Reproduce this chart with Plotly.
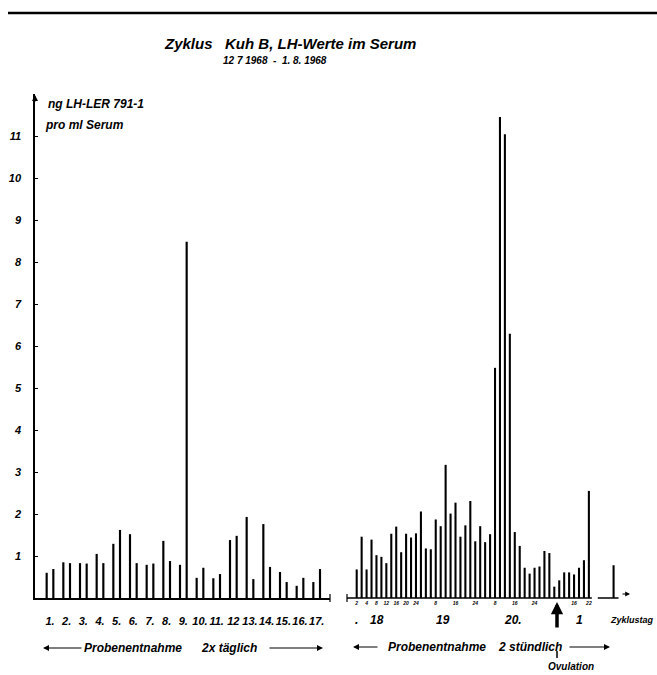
import plotly.graph_objects as go

# ---------------- data ----------------
title_text = "Zyklus&nbsp;&nbsp;&nbsp;Kuh B, LH-Werte im Serum"
subtitle_text = "12 7 1968&nbsp;&nbsp;-&nbsp;&nbsp;1. 8. 1968"
y_label_lines = ["ng LH-LER 791-1", "pro ml Serum"]

left_days = list(range(1, 18))
left_day_labels = ["1.", "2.", "3.", "4.", "5.", "6.", "7.", "8.", "9.", "10.",
                   "11.", "12", "13.", "14.", "15.", "16.", "17."]
# two samples per day (ng/ml)
left_values = [0.60, 0.69, 0.85, 0.83, 0.83, 0.82, 1.05, 0.83, 1.29, 1.62,
               1.52, 0.83, 0.79, 0.82, 1.36, 0.88, 0.79, 8.48, 0.48, 0.72,
               0.47, 0.57, 1.38, 1.48, 1.93, 0.45, 1.76, 0.74, 0.62, 0.38,
               0.29, 0.48, 0.38, 0.69]

# samples every 2 hours (ng/ml)
right_values = [0.68, 1.46, 0.68, 1.39, 1.02, 0.98, 0.83, 1.53, 1.70, 1.09,
                1.53, 1.44, 1.54, 2.06, 1.18, 1.16, 1.87, 1.71, 3.17, 2.01,
                2.27, 1.46, 1.73, 2.31, 1.35, 1.71, 1.33, 1.52, 5.48, 11.45,
                11.04, 6.29, 1.57, 1.24, 0.72, 0.58, 0.72, 0.75, 1.12, 1.07,
                0.27, 0.42, 0.61, 0.61, 0.56, 0.72, 0.90, 2.55]
right_late_value = [0.78]

right_hour_ticks = [0, 2, 4, 6, 8, 10, 12, 16, 20, 24, 28, 32, 36, 44, 47]
right_hour_labels = ["2", "4", "8", "12", "16", "20", "24", "8", "16", "24",
                     "8", "16", "24", "16", "22"]
right_day_labels = [".", "18", "19", "20.", "1"]
right_day_pos = [-0.1, 4.1, 17.5, 31.6, 45.2]
y_ticks = list(range(1, 12))

# ---------------- geometry helpers ----------------
W, H = 657, 675
def px(x):
    return x / W
def py(y):
    return 1 - y / H

FONT = "Liberation Sans"
BI = dict(family=FONT, color="black", style="italic", weight="bold")

left_x = [left_days[i // 2] - 0.2 + 0.4 * (i % 2) for i in range(len(left_values))]
right_x = list(range(len(right_values)))
late_x = [len(right_values) + 4]

fig = go.Figure()
fig.add_trace(go.Bar(x=left_x, y=left_values, width=0.13, marker_color="black",
                     marker_line_width=0, xaxis="x", yaxis="y", showlegend=False))
fig.add_trace(go.Bar(x=right_x, y=right_values, width=0.42, marker_color="black",
                     marker_line_width=0, xaxis="x2", yaxis="y", showlegend=False))
fig.add_trace(go.Bar(x=late_x, y=right_late_value, width=0.42, marker_color="black",
                     marker_line_width=0, xaxis="x2", yaxis="y", showlegend=False))

x2_min = (347 - 356.7) / 4.94
x2_max = (632 - 356.7) / 4.94

fig.update_layout(
    width=W, height=H, autosize=False,
    margin=dict(l=0, r=0, t=0, b=0),
    paper_bgcolor="white", plot_bgcolor="white",
    barmode="overlay",
    font=dict(family=FONT, color="black"),
    xaxis=dict(domain=[px(35), px(330)], range=[0.1, 17.8], anchor="y",
               showline=True, linecolor="black", linewidth=1.5,
               tickvals=left_days, ticktext=left_day_labels, ticks="", tickangle=0,
               tickfont=dict(size=11, **BI), ticklabelstandoff=12,
               showgrid=False, zeroline=False, fixedrange=True),
    xaxis2=dict(domain=[px(347), px(632)], range=[x2_min, x2_max], anchor="y",
                showline=False, tickvals=right_hour_ticks, ticktext=right_hour_labels,
                ticks="", tickangle=0, tickfont=dict(size=5, **BI), ticklabelstandoff=1,
                showgrid=False, zeroline=False, fixedrange=True),
    yaxis=dict(domain=[py(598), py(94)], range=[0, 12], anchor="x",
               showline=True, linecolor="black", linewidth=1.5,
               ticks="inside", ticklen=3, tickcolor="black",
               tickvals=y_ticks, tickfont=dict(size=11, **BI), ticklabelstandoff=10,
               showgrid=False, zeroline=False, fixedrange=True),
)

shapes = []
# top rule
shapes.append(dict(type="line", xref="paper", yref="paper", x0=px(8), x1=1, y0=py(13), y1=py(13),
                   line=dict(color="black", width=2.5)))
# left axis end tick
shapes.append(dict(type="line", xref="paper", yref="paper", x0=px(330), x1=px(330), y0=py(594), y1=py(602),
                   line=dict(color="black", width=1.2)))
# right baseline
shapes.append(dict(type="line", xref="x2", yref="paper", x0=x2_min, x1=47.6, y0=py(598), y1=py(598),
                   line=dict(color="black", width=1.5)))
shapes.append(dict(type="line", xref="paper", yref="paper", x0=px(347), x1=px(347), y0=py(594), y1=py(602),
                   line=dict(color="black", width=1.2)))
shapes.append(dict(type="line", xref="x2", yref="paper", x0=48.8, x1=53.0, y0=py(598), y1=py(598),
                   line=dict(color="black", width=1.5)))
# small tick under ovulation arrow
shapes.append(dict(type="line", xref="paper", yref="paper", x0=px(557), x1=px(557), y0=py(651), y1=py(658),
                   line=dict(color="black", width=1.5)))
fig.update_layout(shapes=shapes)

ann = []
def text(x, y, s, size, xanchor="center", xref="paper"):
    ann.append(dict(x=x, y=py(y), xref=xref, yref="paper", text=s, showarrow=False,
                    xanchor=xanchor, yanchor="middle", font=dict(size=size, **BI)))

def arrow(tipx, tipy, axp, ayp, width=1.2, head=2, size=1.0):
    ann.append(dict(x=px(tipx), y=py(tipy), xref="paper", yref="paper", text="",
                    showarrow=True, ax=axp, ay=ayp, axref="pixel", ayref="pixel",
                    arrowhead=head, arrowsize=size, arrowwidth=width, arrowcolor="black"))

text(px(290), 43, title_text, 15)
text(px(275), 61, subtitle_text, 10)
text(px(46), 104, y_label_lines[0], 12, "left")
text(px(43), 125, y_label_lines[1], 12, "left")

# y-axis arrow
arrow(35, 95, 0, 8, width=1.5, head=2, size=0.8)
# right baseline arrow
arrow(630, 594, -9, 0, width=1.2, head=2, size=0.8)

# right day labels
for s, p in zip(right_day_labels, right_day_pos):
    text(p, 620, s, 12, "center", "x2")
text(1 - 1 / W, 620, "Zyklustag", 9, "right")

# bottom rows
arrow(43, 648, 40, 0)
text(px(133), 648, "Probenentnahme", 12)
text(px(229), 648, "2x täglich", 12)
arrow(323, 648, -55, 0)

arrow(353, 647, 26, 0)
text(px(437), 647, "Probenentnahme", 12)
text(px(530), 647, "2 stündlich", 12)
arrow(610, 647, -42, 0)

# ovulation
arrow(557, 602, 0, 27, width=3.5, head=2, size=0.7)
text(px(571), 666, "Ovulation", 10)

fig.update_layout(annotations=ann)
fig.write_html("out.html")
